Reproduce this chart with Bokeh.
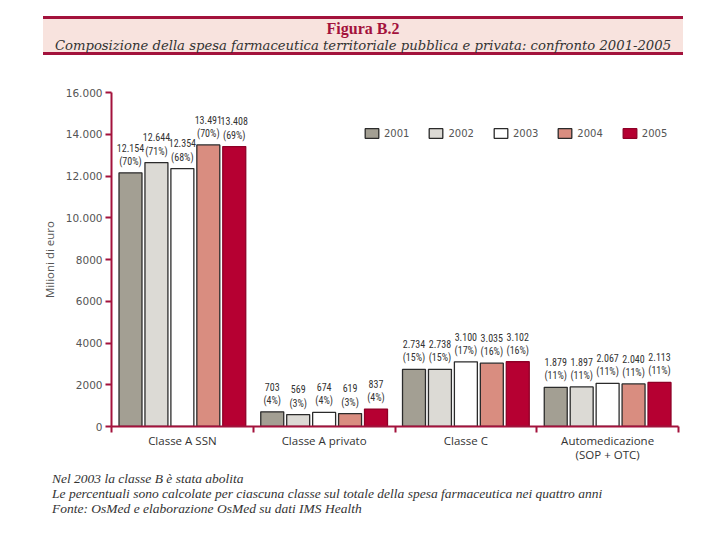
from bokeh.plotting import figure
from bokeh.models import (ColumnDataSource, FixedTicker, Legend, LegendItem, Div, Range1d)
from bokeh.layouts import column
from bokeh.core.properties import value
from bokeh.embed import file_html
from bokeh.resources import INLINE

# ---------------- data ----------------
categories = ["Classe A SSN", "Classe A privato", "Classe C", "Automedicazione\n(SOP + OTC)"]
years = ["2001", "2002", "2003", "2004", "2005"]
v2001 = [12154, 703, 2734, 1879]
v2002 = [12644, 569, 2738, 1897]
v2003 = [12354, 674, 3100, 2067]
v2004 = [13491, 619, 3035, 2040]
v2005 = [13408, 837, 3102, 2113]
p2001 = [70, 4, 15, 11]
p2002 = [71, 3, 15, 11]
p2003 = [68, 4, 17, 11]
p2004 = [70, 3, 16, 11]
p2005 = [69, 4, 16, 11]
y_ticks = [0, 2000, 4000, 6000, 8000, 10000, 12000, 14000, 16000]
y_tick_labels = ["0", "2000", "4000", "6000", "8000", "10.000", "12.000", "14.000", "16.000"]

title_text = "Figura B.2"
subtitle_text = "Composizione della spesa farmaceutica territoriale pubblica e privata: confronto 2001-2005"
notes = ["Nel 2003 la classe B è stata abolita",
         "Le percentuali sono calcolate per ciascuna classe sul totale della spesa farmaceutica nei quattro anni",
         "Fonte: OsMed e elaborazione OsMed su dati IMS Health"]

values_by_year = [v2001, v2002, v2003, v2004, v2005]
pct_by_year = [p2001, p2002, p2003, p2004, p2005]

# ---------------- styles ----------------
fills = ["#a39f93", "#dcdad5", "#ffffff", "#d98d80", "#b60032"]
lines = ["#2b2b2b", "#2b2b2b", "#2b2b2b", "#2b2b2b", "#8e0027"]
RED = "#a3123c"
GREY = "#555555"
NARROW = "Roboto Condensed, Liberation Sans Narrow, Liberation Sans, sans-serif"
bar_w = 0.162
step = 0.183

def fmt(n):
    return f"{n:,}".replace(",", ".")

header = Div(
    text=(f'<div style="margin-left:43px;margin-top:16px;width:640px;height:39px;'
          f'background:#f8e3de;border-top:3px solid {RED};border-bottom:3px solid {RED};'
          f'text-align:center;white-space:nowrap;">'
          f'<div style="color:{RED};font-family:\'Liberation Serif\',serif;font-weight:bold;'
          f'font-size:16px;line-height:17px;padding-top:1px;">{title_text}</div>'
          f'<div style="color:#333;font-family:\'DejaVu Serif\',serif;font-style:italic;'
          f'font-size:13.2px;line-height:18px;">{subtitle_text}</div></div>'),
    width=720, height=78, margin=(0, 0, 0, 0))

p = figure(frame_width=567, frame_height=334, x_range=Range1d(0, 4), y_range=Range1d(0, 16000),
           output_backend="svg", toolbar_location=None,
           min_border_left=111, min_border_right=26, min_border_top=14, min_border_bottom=40)
p.outline_line_color = None
p.xgrid.visible = False
p.ygrid.visible = False
p.margin = (0, 0, 0, 0)

items = []
for k, (yr, vals, pcts) in enumerate(zip(years, values_by_year, pct_by_year)):
    xs = [i + 0.5 + (k - 2) * step for i in range(len(categories))]
    src = ColumnDataSource(dict(x=xs, top=vals,
                                lab=[f"{fmt(v)}\n({pc}%)" for v, pc in zip(vals, pcts)]))
    r = p.vbar(x="x", top="top", width=bar_w, source=src, fill_color=fills[k],
               line_color=lines[k], line_width=1.3)
    p.text(x="x", y="top", text="lab", source=src, text_align="center", text_baseline="bottom",
           y_offset=-6, text_font=value(NARROW),
           text_font_size="10px", text_color="#333333", text_line_height=1.2)
    items.append(LegendItem(label=yr, renderers=[r]))

legend = Legend(items=items, orientation="horizontal", location=(252, 287),
                glyph_width=17, glyph_height=12, label_standoff=4, spacing=18,
                padding=0, margin=0, border_line_alpha=0, background_fill_alpha=0,
                label_text_font="DejaVu Sans", label_text_font_size="10px",
                label_text_color=GREY, label_height=12)
p.add_layout(legend)

# y axis
ya = p.yaxis[0]
ya.ticker = FixedTicker(ticks=y_ticks)
ya.major_label_overrides = {t: l for t, l in zip(y_ticks, y_tick_labels)}
ya.axis_line_color = RED
ya.axis_line_width = 2
ya.major_tick_line_color = RED
ya.major_tick_line_width = 2
ya.major_tick_out = 6
ya.major_tick_in = 0
ya.minor_tick_line_color = None
ya.major_label_standoff = 3
ya.major_label_text_font = "DejaVu Sans"
ya.major_label_text_font_size = "10.5px"
ya.major_label_text_color = GREY
ya.axis_label = "Milioni di euro"
ya.axis_label_text_font = "Open Sans"
ya.axis_label_text_font_style = "normal"
ya.axis_label_text_font_size = "11.5px"
ya.axis_label_text_color = GREY
ya.axis_label_standoff = 6

# x axis
xa = p.xaxis[0]
xa.ticker = FixedTicker(ticks=[i + 0.5 for i in range(len(categories))],
                        minor_ticks=list(range(len(categories) + 1)))
xa.major_label_overrides = {i + 0.5: c for i, c in enumerate(categories)}
xa.axis_line_color = RED
xa.axis_line_width = 2
xa.major_tick_line_color = None
xa.major_tick_out = 0
xa.major_tick_in = 0
xa.minor_tick_line_color = RED
xa.minor_tick_line_width = 2
xa.minor_tick_out = 6
xa.minor_tick_in = 0
xa.major_label_standoff = 0
xa.major_label_text_font = "Open Sans"
xa.major_label_text_font_size = "11.5px"
xa.major_label_text_color = "#333333"
xa.major_label_text_line_height = 0.95

foot = Div(
    text=('<div style="margin-left:52px;padding-top:5px;font-family:\'Liberation Serif\',serif;'
          'font-style:italic;font-size:13.5px;line-height:15px;color:#333;white-space:nowrap;">'
          + "<br>".join(notes) + '</div>'),
    width=720, height=60, margin=(0, 0, 0, 0))

layout = column(header, p, foot, spacing=0)
open("out.html", "w").write(file_html(layout, INLINE))
